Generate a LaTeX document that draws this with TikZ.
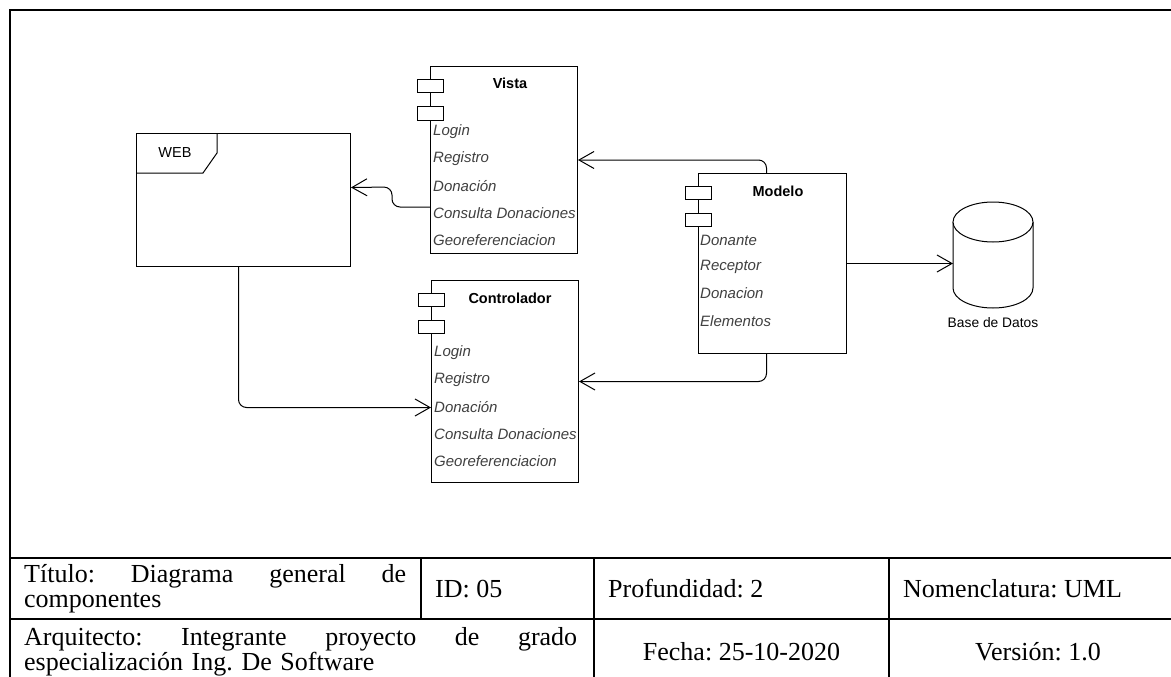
\documentclass[tikz,border=0pt]{standalone}
\usepackage{fontspec}
\setmainfont{Liberation Serif}
\newfontfamily\diagfont{Liberation Sans}
\usetikzlibrary{arrows.meta}
\frenchspacing

\begin{document}
\begin{tikzpicture}[x=1pt,y=-1pt,
  comp/.style={draw, line width=1pt, fill=white, inner sep=0pt, anchor=north west},
  port/.style={draw, line width=1pt, fill=white, minimum width=26pt, minimum height=13pt, inner sep=0pt},
  ctitle/.style={font=\diagfont\fontsize{14.5}{17}\selectfont\bfseries, inner sep=0pt},
  plain/.style={font=\diagfont\fontsize{14.5}{17}\selectfont, inner sep=0pt},
  item/.style={font=\diagfont\fontsize{15}{17}\selectfont\itshape, text=black!75, inner sep=0pt, anchor=west},
  conn/.style={line width=1pt, rounded corners=8pt, -{Straight Barb[length=15pt,width=17pt,line width=1pt]}},
  cell/.style={font=\fontsize{26}{25}\selectfont, inner sep=0pt},
  frame/.style={line width=2.4pt},
  rule/.style={line width=1.7pt},
]
\useasboundingbox (0,0) rectangle (1171,677);
\clip (0,0) rectangle (1171,677);

% outer frame and title block
\draw[frame] (10,700) -- (10,10) -- (1200,10);
\draw[rule] (10,558) -- (1200,558);
\draw[rule] (10,619) -- (1200,619);
\draw[rule] (421,558) -- (421,619);
\draw[rule] (594,558) -- (594,700);
\draw[rule] (889,558) -- (889,700);

\node[cell, text width=382pt, align=left, anchor=west] (titulo) at (24,589)
  {Título:\hfill Diagrama\hfill general\hfill de\\componentes};
\node[cell, anchor=west] (id) at (435,589) {ID: 05};
\node[cell, anchor=west] (prof) at (608,589) {Profundidad: 2};
\node[cell, anchor=west] (nom) at (903,589) {Nomenclatura: UML};
\node[cell, text width=553pt, align=left, anchor=west] (arq) at (24,652)
  {Arquitecto:\hfill Integrante\hfill proyecto\hfill de\hfill grado\\especialización Ing. De Software};
\node[cell] (fecha) at (741.5,652) {Fecha: 25-10-2020};
\node[cell] (ver) at (1038,652) {Versión: 1.0};

% WEB frame
\node[comp, minimum width=214pt, minimum height=133pt] (web) at (136,133) {};
\draw[line width=1pt] (136,173) -- (203,173) -- (217,153) -- (217,133);
\node[plain] (webl) at (175,153) {WEB};

% Vista component
\node[comp, minimum width=147pt, minimum height=187pt] (vista) at (430,66) {};
\node[port] (vp1) at (430,86) {};
\node[port] (vp2) at (430,113.5) {};
\node[ctitle] (vt) at (510,83) {Vista};
\node[item] (v1) at (433,132) {Login};
\node[item] (v2) at (433,159) {Registro};
\node[item] (v3) at (433,186) {Donación};
\node[item] (v4) at (433,213) {Consulta Donaciones};
\node[item] (v5) at (433,240) {Georeferenciacion};

% Controlador component
\node[comp, minimum width=147pt, minimum height=202pt] (ctrl) at (431,280) {};
\node[port] (cp1) at (431,300) {};
\node[port] (cp2) at (431,327) {};
\node[ctitle] (ct) at (510,298) {Controlador};
\node[item] (c1) at (434,353) {Login};
\node[item] (c2) at (434,380) {Registro};
\node[item] (c3) at (434,407) {Donación};
\node[item] (c4) at (434,434) {Consulta Donaciones};
\node[item] (c5) at (434,461) {Georeferenciacion};

% Modelo component
\node[comp, minimum width=148pt, minimum height=180pt] (modelo) at (698,173) {};
\node[port] (mp1) at (698,193) {};
\node[port] (mp2) at (698,220) {};
\node[ctitle] (mt) at (778,191) {Modelo};
\node[item] (m1) at (700,240) {Donante};
\node[item] (m2) at (700,267) {Receptor};
\node[item] (m3) at (700,293) {Donacion};
\node[item] (m4) at (700,321) {Elementos};

% database
\node[minimum width=80pt, minimum height=106pt, inner sep=0pt, anchor=north west] (db) at (953,202) {};
\fill[white] (953,222) -- (953,288) arc[start angle=180, end angle=0, x radius=40, y radius=20] -- (1033,222) -- cycle;
\draw[line width=1pt] (953,222) -- (953,288) arc[start angle=180, end angle=0, x radius=40, y radius=20] -- (1033,222);
\draw[line width=1pt, fill=white] (993,222) ellipse[x radius=40, y radius=20];
\node[plain, font=\diagfont\fontsize{13.8}{16}\selectfont] (dbl) at (993,323) {Base de Datos};

% connectors
\draw[conn] ([yshift=-141pt]vista.north west) -- ++(-38,0) -- ++(0,-20) -- ([yshift=12.5pt]web.east);
\draw[conn] ([xshift=-6pt]modelo.north) |- (vista.east);
\draw[conn] ([xshift=-6pt]modelo.south) |- (ctrl.east);
\draw[conn] ([xshift=-5pt]web.south) |- ([yshift=-26pt]ctrl.west);
\draw[conn] (modelo.east) -- (modelo.east -| db.west);
\end{tikzpicture}
\end{document}
